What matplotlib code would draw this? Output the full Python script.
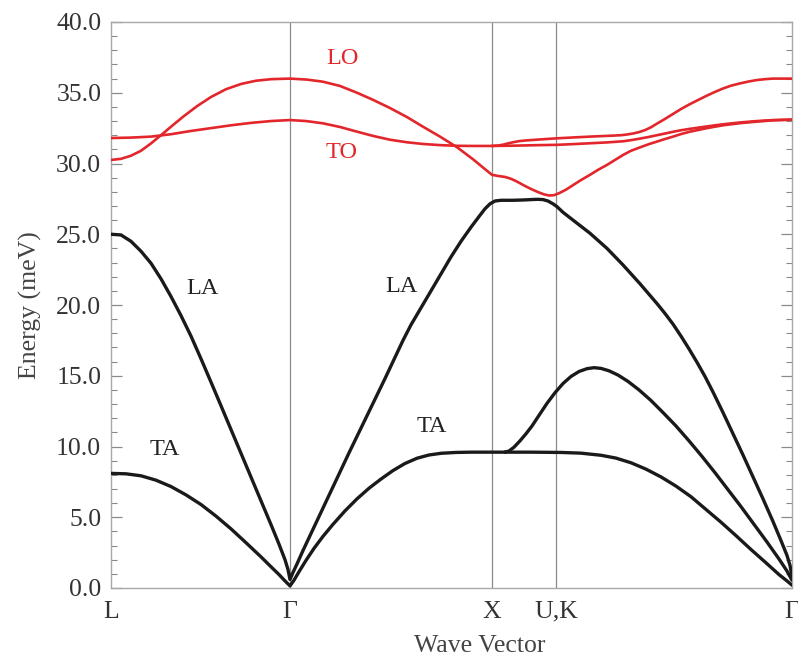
import numpy as np
import matplotlib
matplotlib.use("Agg")
import matplotlib.pyplot as plt
from matplotlib.ticker import MultipleLocator, FormatStrFormatter

# ---- data (path coordinate k in arbitrary path units, energy in meV) ----
sym_pos = [0, 179, 381, 445, 681]
sym_labels = ["L", "Γ", "X", "U,K", "Γ"]

la_k = [0, 10, 20, 30, 40, 50, 60, 70, 80, 90, 100, 110, 120, 130, 140, 150, 160, 168, 174,
        177, 179, 182, 186, 192, 202, 214, 226, 238, 250, 262, 274, 286, 292, 300, 310, 320,
        330, 340, 350, 360, 368, 374, 379, 384, 390, 402, 415, 426, 432, 437, 442, 446, 452,
        462, 479, 496, 512, 529, 546, 554, 562, 570, 578, 586, 594, 602, 612, 622, 632, 642,
        652, 662, 670, 676, 679, 681]
la_e = [25.0, 24.95, 24.5, 23.8, 22.95, 21.85, 20.6, 19.25, 17.8, 16.2, 14.55, 12.88, 11.2,
        9.52, 7.84, 6.16, 4.48, 3.1, 2.0, 1.3, 0.6, 1.1, 1.7, 2.65, 4.15, 5.95, 7.75, 9.55,
        11.3, 13.05, 14.8, 16.6, 17.5, 18.6, 19.8, 21.0, 22.2, 23.4, 24.5, 25.5, 26.25, 26.8,
        27.15, 27.35, 27.4, 27.4, 27.43, 27.47, 27.45, 27.35, 27.15, 26.95, 26.55, 26.0,
        25.07, 24.0, 22.83, 21.5, 20.1, 19.4, 18.65, 17.8, 16.9, 15.95, 14.95, 13.85, 12.4,
        10.9, 9.4, 7.85, 6.3, 4.7, 3.35, 2.3, 1.6, 0.8]

ta_k = [0, 15, 30, 45, 60, 75, 90, 105, 120, 135, 150, 160, 168, 174, 179, 183, 188, 195,
        203, 212, 222, 234, 246, 258, 270, 282, 294, 306, 318, 330, 345, 360, 381, 394]
ta_e = [8.1, 8.07, 7.93, 7.62, 7.17, 6.58, 5.9, 5.08, 4.18, 3.2, 2.2, 1.5, 0.95, 0.5, 0.15,
        0.55, 1.15, 1.95, 2.8, 3.65, 4.5, 5.45, 6.3, 7.05, 7.7, 8.3, 8.8, 9.17, 9.4, 9.52,
        9.58, 9.6, 9.6, 9.6]

taflat_k = [394, 420, 450, 470, 490, 505, 520, 535, 550, 565, 580, 595, 610, 625, 640, 655,
            668, 676, 681]
taflat_e = [9.6, 9.6, 9.58, 9.53, 9.38, 9.18, 8.85, 8.4, 7.85, 7.2, 6.45, 5.55, 4.65, 3.7,
            2.72, 1.78, 0.95, 0.5, 0.2]

tabump_k = [394, 398, 403, 409, 415, 421, 428, 436, 444, 452, 460, 468, 476, 483, 490, 498,
            507, 517, 528, 540, 552, 565, 578, 591, 604, 617, 630, 643, 656, 668, 676, 681]
tabump_e = [9.6, 9.68, 9.95, 10.4, 10.9, 11.45, 12.2, 13.05, 13.8, 14.45, 14.95, 15.3, 15.5,
            15.57, 15.52, 15.35, 15.05, 14.6, 14.0, 13.25, 12.4, 11.45, 10.4, 9.3, 8.15, 6.95,
            5.75, 4.5, 3.25, 2.05, 1.2, 0.55]

to_k = [0, 20, 40, 60, 80, 100, 120, 140, 160, 179, 195, 212, 229, 246, 262, 279, 296, 312,
        329, 346, 362, 381]
to_e = [31.8, 31.83, 31.9, 32.07, 32.3, 32.5, 32.7, 32.87, 33.0, 33.07, 33.0, 32.84, 32.58,
        32.25, 31.95, 31.68, 31.5, 31.38, 31.3, 31.25, 31.24, 31.24]

toa_k = [381, 402, 429, 446, 462, 479, 496, 512, 520, 529, 538, 546, 554, 562, 570, 579, 588,
         596, 604, 612, 629, 646, 662, 681]
toa_e = [31.24, 31.26, 31.3, 31.32, 31.37, 31.43, 31.49, 31.57, 31.65, 31.76, 31.88, 32.0,
         32.12, 32.24, 32.35, 32.45, 32.54, 32.62, 32.7, 32.77, 32.9, 33.0, 33.07, 33.1]

tob_k = [381, 387, 392, 397, 402, 408, 415, 429, 446, 462, 479, 492, 502, 510, 516, 522, 528,
         534, 540, 546, 554, 562, 570, 579, 588, 596, 604, 612, 620, 629, 638, 646, 654, 662, 681]
tob_e = [31.24, 31.27, 31.33, 31.42, 31.5, 31.58, 31.63, 31.7, 31.78, 31.84, 31.9, 31.94,
         31.97, 32.0, 32.05, 32.12, 32.22, 32.36, 32.56, 32.82, 33.15, 33.5, 33.85, 34.2,
         34.52, 34.8, 35.06, 35.3, 35.5, 35.66, 35.8, 35.9, 35.96, 36.0, 36.0]

lo_k = [0, 10, 20, 30, 40, 50, 60, 72, 86, 100, 115, 130, 145, 160, 179, 196, 212, 229, 246,
        262, 279, 296, 312, 329, 346, 362, 374, 381, 387, 394, 400, 406, 413, 420, 427, 433,
        438, 443, 448, 455, 462, 470, 479, 487, 496, 504, 512, 520, 529, 538, 546, 554, 562,
        570, 579, 588, 596, 604, 612, 629, 646, 662, 681]
lo_e = [30.25, 30.33, 30.55, 30.9, 31.42, 32.0, 32.6, 33.3, 34.05, 34.7, 35.25, 35.62, 35.85,
        35.96, 36.0, 35.93, 35.78, 35.48, 35.0, 34.5, 33.92, 33.28, 32.6, 31.9, 31.15, 30.3,
        29.6, 29.2, 29.12, 29.05, 28.92, 28.72, 28.45, 28.2, 27.98, 27.82, 27.74, 27.76, 27.9,
        28.15, 28.47, 28.83, 29.2, 29.55, 29.9, 30.25, 30.6, 30.9, 31.14, 31.37, 31.55, 31.73,
        31.9, 32.08, 32.25, 32.38, 32.5, 32.6, 32.7, 32.85, 32.96, 33.05, 33.1]

branch_labels = [("LA", 91, 21.2, "black"), ("TA", 54, 9.8, "black"),
                 ("LA", 290, 21.3, "black"), ("TA", 321, 11.4, "black"),
                 ("LO", 231, 37.4, "red"), ("TO", 231, 30.8, "red")]

# ---- figure ----
plt.rcParams['font.family'] = ['Liberation Serif', 'DejaVu Serif']
fig = plt.figure(figsize=(7.98, 6.63), dpi=100)
ax = fig.add_axes([111 / 798, 1 - 588 / 663, 681 / 798, 566 / 663])

red = '#e3262b'
blk = '#1a1a1a'
for k, e in [(la_k, la_e), (ta_k, ta_e), (taflat_k, taflat_e), (tabump_k, tabump_e)]:
    ax.plot(k, e, color=blk, lw=2.4, solid_capstyle='round', solid_joinstyle='round', zorder=3)
for k, e in [(to_k, to_e), (toa_k, toa_e), (tob_k, tob_e), (lo_k, lo_e)]:
    ax.plot(k, e, color=red, lw=1.9, solid_capstyle='round', solid_joinstyle='round', zorder=3)

for p in sym_pos[1:4]:
    ax.axvline(p, color='#8a8a8a', lw=0.9, zorder=1)

colors = {"black": '#222222', "red": red}
for txt, x, y, c in branch_labels:
    ax.text(x, y, txt, color=colors[c], fontsize=17.5, ha='center', va='center')

ax.set_xlim(sym_pos[0], sym_pos[-1])
ax.set_ylim(0, 40)
ax.set_xticks(sym_pos)
ax.set_xticklabels(sym_labels)
ax.yaxis.set_major_locator(MultipleLocator(5))
ax.yaxis.set_minor_locator(MultipleLocator(1))
ax.yaxis.set_major_formatter(FormatStrFormatter('%.1f'))

ax.tick_params(axis='y', which='both', direction='in', left=True, right=True,
               colors='#8a8a8a', labelcolor='#333333', labelsize=18.5)
ax.tick_params(axis='y', which='major', length=8, width=0.9, pad=7)
ax.tick_params(axis='y', which='minor', length=4.5, width=0.8)
ax.tick_params(axis='x', which='both', length=0, labelsize=18.5, labelcolor='#333333', pad=9)

for s in ax.spines.values():
    s.set_color('#a8a8a8')
    s.set_linewidth(1.0)

ax.set_ylabel("Energy (meV)", fontsize=18.5, color='#444444')
ax.yaxis.set_label_coords(-0.102, 0.5)
ax.set_xlabel("Wave Vector", fontsize=18.5, color='#444444')
ax.xaxis.set_label_coords(0.542, -0.083)

fig.savefig("out.png", dpi=100)
